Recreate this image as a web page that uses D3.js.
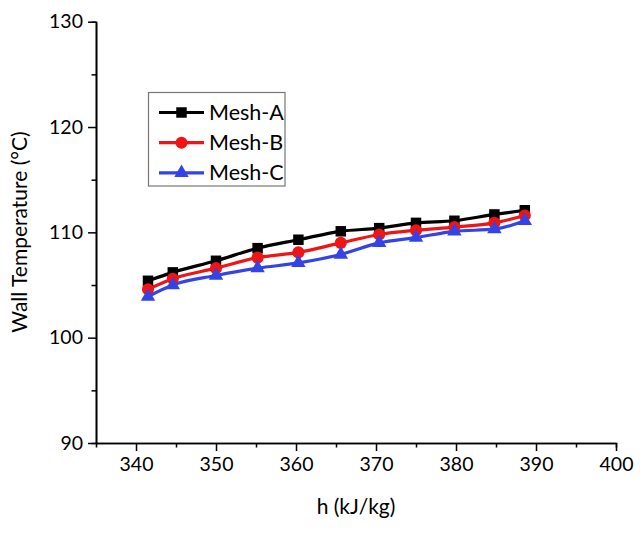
<!DOCTYPE html>
<html><head><meta charset="utf-8">
<script src="https://cdn.jsdelivr.net/npm/d3@7"></script>
<style>body{margin:0;background:#fff}svg{display:block}</style>
</head><body>
<svg id="c" width="640" height="533"></svg>
<script>
const hValues = [341.5, 344.6, 350.0, 355.2, 360.3, 365.6, 370.4, 375.0, 379.8, 384.8, 388.6];
const meshA = [105.4, 106.2, 107.3, 108.5, 109.3, 110.1, 110.4, 110.9, 111.1, 111.7, 112.1];
const meshB = [104.6, 105.6, 106.6, 107.6, 108.1, 109.0, 109.8, 110.2, 110.5, 110.9, 111.6];
const meshC = [103.9, 105.0, 105.9, 106.6, 107.1, 107.9, 109.0, 109.5, 110.1, 110.3, 111.1];
const seriesNames = ["Mesh-A", "Mesh-B", "Mesh-C"];
const xTicks = [340, 350, 360, 370, 380, 390, 400];
const yTicks = [90, 100, 110, 120, 130];

const series = [
  {name: seriesNames[0], vals: meshA, color: "#000000", sym: d3.symbolSquare, size: 110},
  {name: seriesNames[1], vals: meshB, color: "#f01414", sym: d3.symbolCircle, size: 115},
  {name: seriesNames[2], vals: meshC, color: "#3344e6", sym: d3.symbolTriangle, size: 90}
];

const svg = d3.select("#c");
const font = "Lato, 'Open Sans', sans-serif";
const x = d3.scaleLinear().domain([335, 400]).range([96, 616]);
const y = d3.scaleLinear().domain([90, 130]).range([443, 21.7]);

// axes
const xAxis = svg.append("g").attr("transform", "translate(0,443)");
xAxis.call(d3.axisBottom(x).tickValues(xTicks).tickSize(8).tickSizeOuter(0).tickPadding(6));
xAxis.append("g").call(d3.axisBottom(x).tickValues(d3.range(345, 400, 10)).tickSize(4.5).tickFormat(""));
const yAxis = svg.append("g").attr("transform", "translate(96,0)");
yAxis.call(d3.axisLeft(y).tickValues(yTicks).tickSize(8).tickSizeOuter(0).tickPadding(5));
yAxis.append("g").call(d3.axisLeft(y).tickValues(d3.range(95, 130, 10)).tickSize(4.5).tickFormat(""));
svg.selectAll(".domain").attr("stroke", "#000").attr("stroke-width", 1.6);
svg.selectAll(".tick line").attr("stroke", "#000").attr("stroke-width", 1.5);
svg.selectAll(".tick text").attr("font-family", font).attr("font-size", 19.5).attr("fill", "#000");

// axis titles
svg.append("text").attr("x", 356).attr("y", 514).attr("text-anchor", "middle")
  .attr("font-family", font).attr("font-size", 21).attr("fill", "#000").text("h (kJ/kg)");
svg.append("text").attr("transform", "translate(27,232) rotate(-90)").attr("text-anchor", "middle")
  .attr("font-family", font).attr("font-size", 21).attr("fill", "#000").text("Wall Temperature (°C)");

// lines and markers
const line = d3.line().x((d, i) => x(hValues[i])).y(d => y(d)).curve(d3.curveMonotoneX);
series.forEach(s => {
  svg.append("path").attr("d", line(s.vals)).attr("fill", "none")
    .attr("stroke", s.color).attr("stroke-width", 3.2);
});
series.forEach(s => {
  svg.append("g").selectAll("path").data(s.vals).join("path")
    .attr("transform", (d, i) => `translate(${x(hValues[i])},${y(d)})`)
    .attr("d", d3.symbol().type(s.sym).size(s.size)).attr("fill", s.color);
});

// legend
const lg = svg.append("g");
lg.append("rect").attr("x", 148.5).attr("y", 92.5).attr("width", 136.5).attr("height", 93.5)
  .attr("fill", "#fff").attr("stroke", "#777").attr("stroke-width", 1.2);
series.forEach((s, i) => {
  const yy = 112.5 + i * 30.2;
  lg.append("line").attr("x1", 159).attr("x2", 204).attr("y1", yy).attr("y2", yy)
    .attr("stroke", s.color).attr("stroke-width", 3.2);
  lg.append("path").attr("transform", `translate(181.5,${yy})`)
    .attr("d", d3.symbol().type(s.sym).size(s.size)).attr("fill", s.color);
  lg.append("text").attr("x", 209).attr("y", yy + 7.5).attr("font-family", font)
    .attr("font-size", 21.5).attr("fill", "#000").text(s.name);
});
</script>
</body></html>
